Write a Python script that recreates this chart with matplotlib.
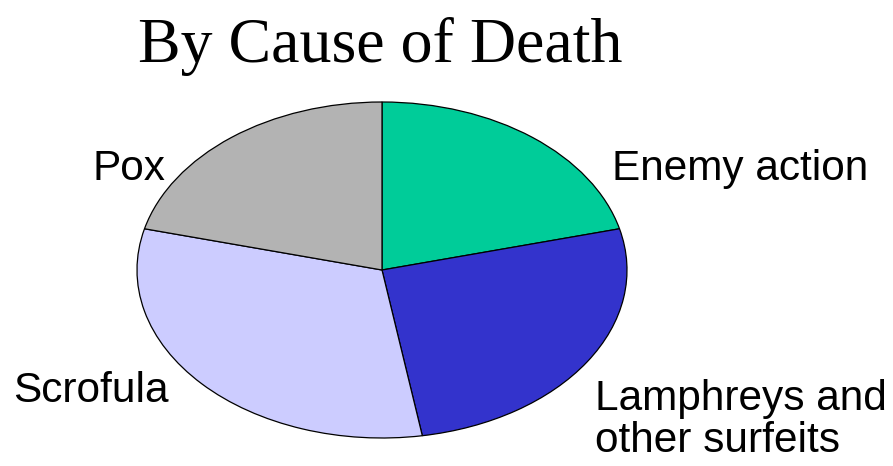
import matplotlib
matplotlib.use("Agg")
import matplotlib.pyplot as plt

categories = ["Enemy action", "Lamphreys and\nother surfeits", "Scrofula", "Pox"]
values = [20, 25, 30, 20]
colors = ["#00CC99", "#3333CC", "#CCCCFF", "#B3B3B3"]

W, H = 893, 466
fig = plt.figure(figsize=(W / 100, H / 100), dpi=100)

# pie axes spanning the ellipse
left, right, top, bottom = 137, 627, 102, 438
ax = fig.add_axes([left / W, (H - bottom) / H, (right - left) / W, (bottom - top) / H])
ax.pie(values, colors=colors, startangle=90, counterclock=False,
       wedgeprops=dict(edgecolor="black", linewidth=0.9))
ax.set_aspect("auto")
ax.set_xlim(-1.0, 1.0)
ax.set_ylim(-1.0, 1.0)
ax.axis("off")

fig.text(380 / W, 1 - 62 / H, "By Cause of Death", ha="center", va="baseline",
         fontsize=46, family="Liberation Serif")

label_pos = [(612, 180), (595, 452), (13, 402), (92, 180)]
for lab, (x, y) in zip(categories, label_pos):
    fig.text(x / W, 1 - y / H, lab, ha="left", va="baseline", fontsize=30.5,
             family="Liberation Sans", linespacing=1.08)

fig.savefig("out.png", dpi=100)
